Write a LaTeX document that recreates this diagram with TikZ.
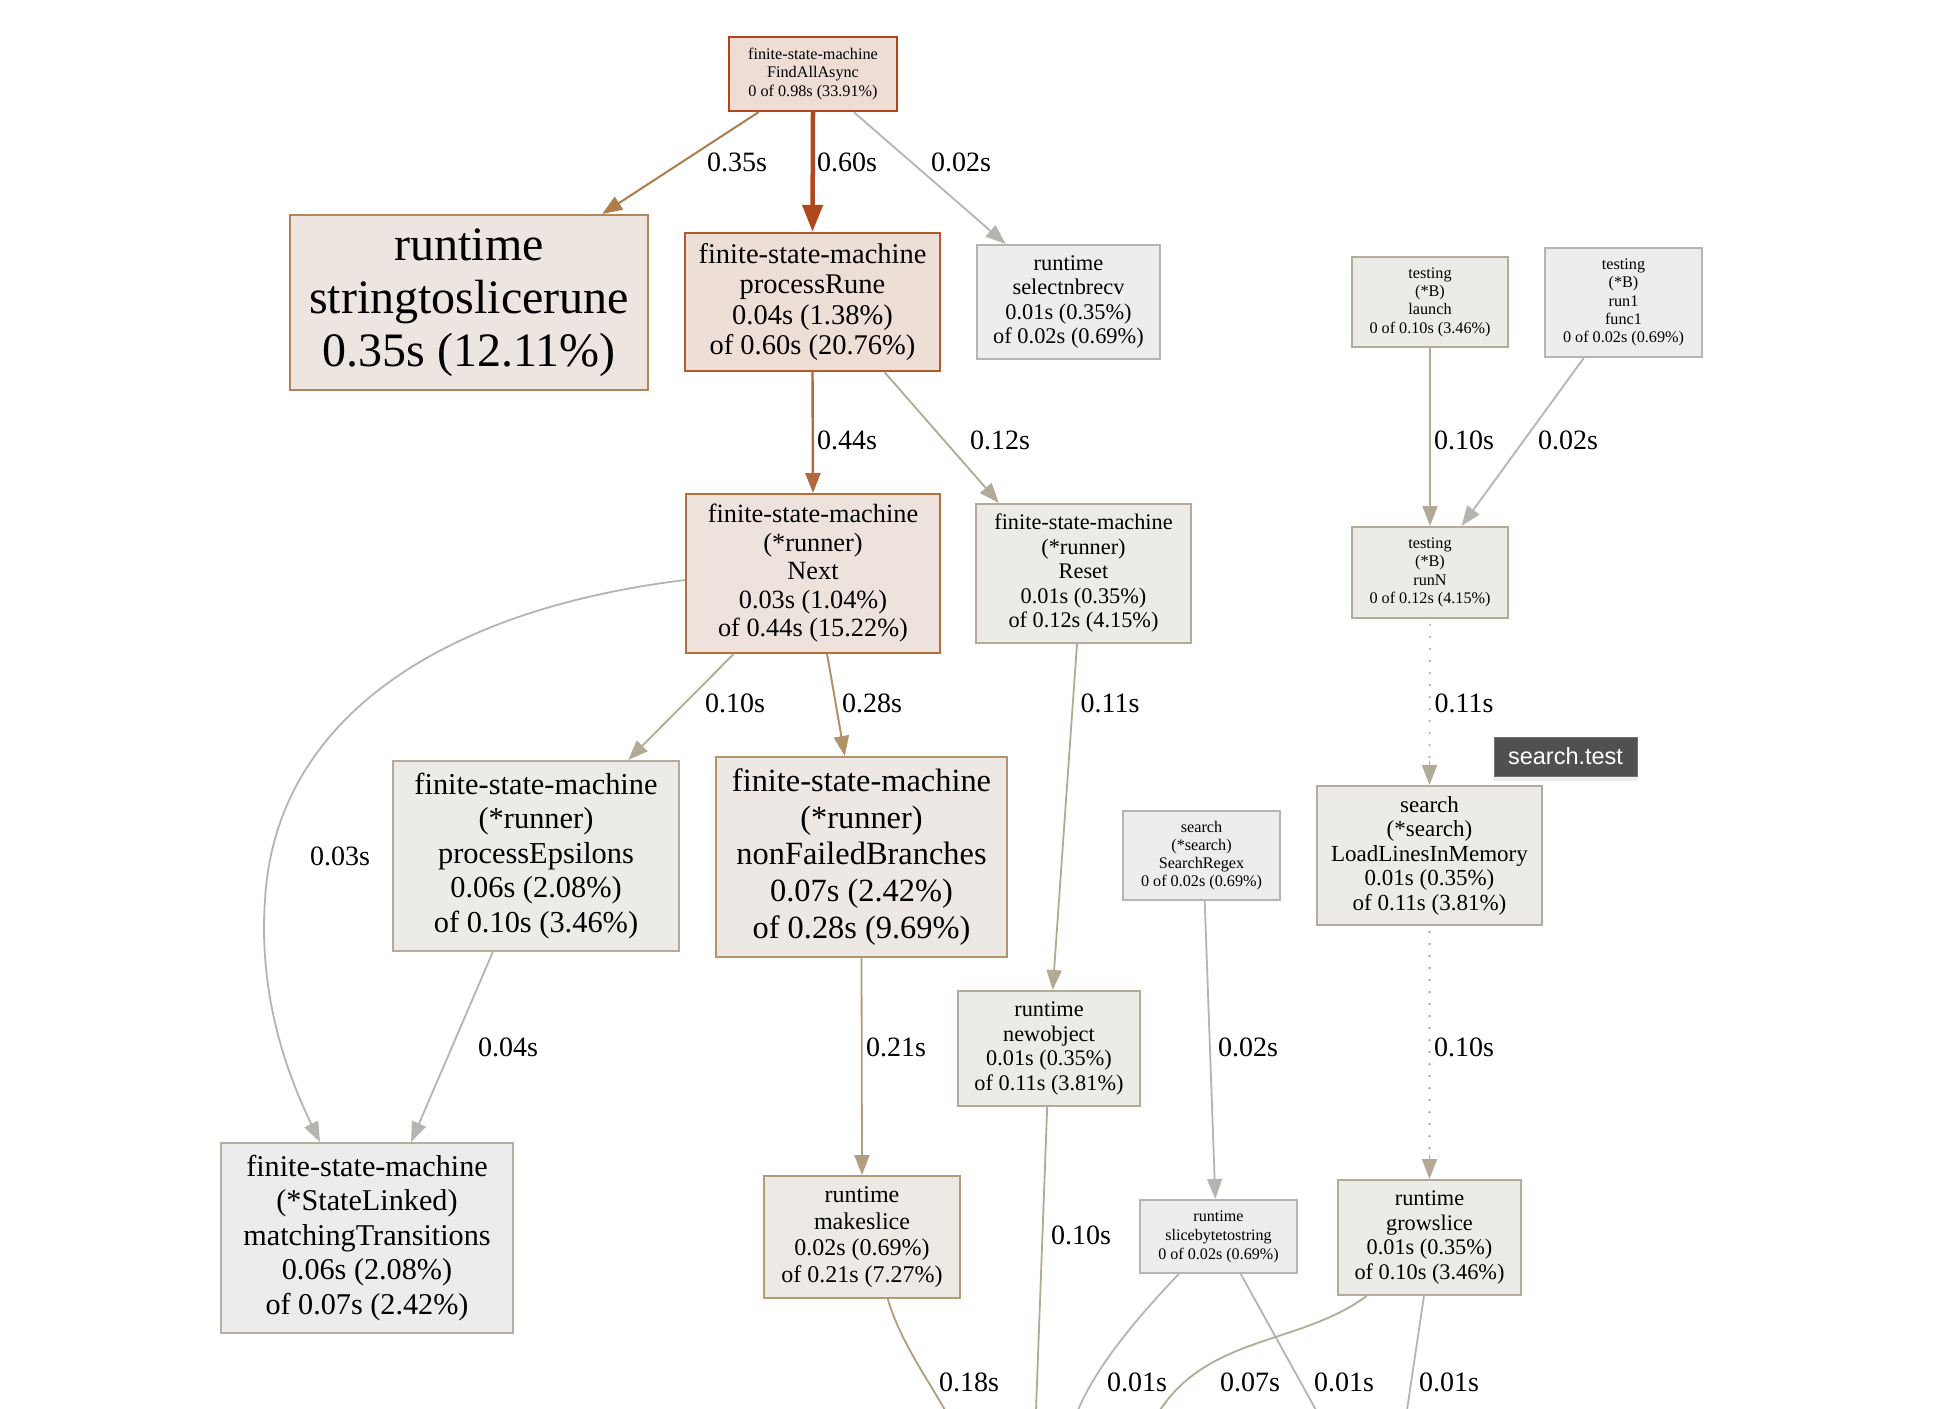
\documentclass[tikz,border=0pt]{standalone}
\usepackage{fontspec}
\setmainfont{Liberation Serif}
\newfontfamily\tipfont{Liberation Sans}
\usetikzlibrary{arrows.meta,calc,shadows}

\newcommand{\fsz}[2]{\fontsize{#1}{#2}\selectfont}

% node colours (fill / border)
\definecolor{fHot}{HTML}{EDDDD5}   \definecolor{bHot}{HTML}{B2441A}
\definecolor{fRune}{HTML}{EDDED6}  \definecolor{bRune}{HTML}{B35A2D}
\definecolor{fNext}{HTML}{EDE3DC}  \definecolor{bNext}{HTML}{B36F3C}
\definecolor{fStr}{HTML}{EDE5DF}   \definecolor{bStr}{HTML}{B2845A}
\definecolor{fNfb}{HTML}{EDE8E3}   \definecolor{bNfb}{HTML}{B3946C}
\definecolor{fMk}{HTML}{EDEAE5}    \definecolor{bMk}{HTML}{B29C78}
\definecolor{fTan}{HTML}{EDEBE8}   \definecolor{bTan}{HTML}{B4AC9B}
\definecolor{fMt}{HTML}{EDECEA}    \definecolor{bMt}{HTML}{B2AFA6}
\definecolor{fGray}{HTML}{EDEDED}  \definecolor{bGray}{HTML}{B5B5B2}
% edge colours
\definecolor{eHot}{HTML}{B0481E}
\definecolor{eStr}{HTML}{B07C4C}
\definecolor{eNext}{HTML}{B2683A}
\definecolor{eNfb}{HTML}{B2926A}
\definecolor{eMk}{HTML}{B29E7C}
\definecolor{eTan}{HTML}{B3AA96}
\definecolor{eGray}{HTML}{B5B5B0}
\definecolor{tipbg}{HTML}{505050}

\tikzset{
  fn/.style={draw, rectangle, inner sep=0pt, align=center, line width=2pt},
  lbl/.style={inner sep=0pt, font=\fsz{28}{30}},
  edge/.style={line width=1.8pt, -{Triangle[length=20pt,width=15pt]}},
  bare/.style={line width=1.8pt},
  dotline/.style={line width=2.4pt, line cap=round, dash pattern=on 0.01pt off 12pt},
}

\begin{document}
\begin{tikzpicture}[x=1pt,y=-1pt]
\fill[white] (0,0) rectangle (1950,1408);
\useasboundingbox (0,0) rectangle (1950,1408);

% ---- function nodes ----
\node[fn, fill=fHot, draw=bHot, line width=2.4pt, minimum width=168pt, minimum height=74pt, font=\fsz{16.2}{18.5}]
  (fa) at (813,74) {finite-state-machine\\FindAllAsync\\0 of 0.98s (33.91\%)};
\node[fn, fill=fStr, draw=bStr, minimum width=358pt, minimum height=175pt, font=\fsz{48}{53}]
  (str) at (469,302.5) {runtime\\stringtoslicerune\\0.35s (12.11\%)};
\node[fn, fill=fRune, draw=bRune, line width=2.4pt, minimum width=255pt, minimum height=138pt, font=\fsz{28.5}{30.5}]
  (pr) at (812.5,302) {finite-state-machine\\processRune\\0.04s (1.38\%)\\of 0.60s (20.76\%)};
\node[fn, fill=fGray, draw=bGray, minimum width=183pt, minimum height=114pt, font=\fsz{22.4}{24.5}]
  (sel) at (1068.5,302) {runtime\\selectnbrecv\\0.01s (0.35\%)\\of 0.02s (0.69\%)};
\node[fn, fill=fTan, draw=bTan, minimum width=156pt, minimum height=90pt, font=\fsz{16.2}{18.4}]
  (launch) at (1430,302) {testing\\(*B)\\launch\\0 of 0.10s (3.46\%)};
\node[fn, fill=fGray, draw=bGray, minimum width=157pt, minimum height=109pt, font=\fsz{16.2}{18.4}]
  (run1) at (1623.5,302.5) {testing\\(*B)\\run1\\func1\\0 of 0.02s (0.69\%)};
\node[fn, fill=fTan, draw=bTan, minimum width=156pt, minimum height=91pt, font=\fsz{16.2}{18.4}]
  (runN) at (1430,572.5) {testing\\(*B)\\runN\\0 of 0.12s (4.15\%)};
\node[fn, fill=fNext, draw=bNext, minimum width=254pt, minimum height=159pt, font=\fsz{26.3}{28.5}]
  (next) at (813,573.5) {finite-state-machine\\(*runner)\\Next\\0.03s (1.04\%)\\of 0.44s (15.22\%)};
\node[fn, fill=fTan, draw=bTan, minimum width=215pt, minimum height=139pt, font=\fsz{22.3}{24.5}]
  (reset) at (1083.5,573.5) {finite-state-machine\\(*runner)\\Reset\\0.01s (0.35\%)\\of 0.12s (4.15\%)};
\node[fn, fill=fTan, draw=bTan, minimum width=286pt, minimum height=190pt, font=\fsz{30.4}{34.5}]
  (pe) at (536,856) {finite-state-machine\\(*runner)\\processEpsilons\\0.06s (2.08\%)\\of 0.10s (3.46\%)};
\node[fn, fill=fNfb, draw=bNfb, minimum width=291pt, minimum height=200pt, font=\fsz{32.4}{36.6}]
  (nfb) at (861.5,857) {finite-state-machine\\(*runner)\\nonFailedBranches\\0.07s (2.42\%)\\of 0.28s (9.69\%)};
\node[fn, fill=fGray, draw=bGray, minimum width=157pt, minimum height=89pt, font=\fsz{16.2}{18}]
  (sr) at (1201.5,855.5) {search\\(*search)\\SearchRegex\\0 of 0.02s (0.69\%)};
\node[fn, fill=fTan, draw=bTan, minimum width=225pt, minimum height=139pt, font=\fsz{23}{24.5}]
  (ll) at (1429.5,855.5) {search\\(*search)\\LoadLinesInMemory\\0.01s (0.35\%)\\of 0.11s (3.81\%)};
\node[fn, fill=fTan, draw=bTan, minimum width=182pt, minimum height=115pt, font=\fsz{22.3}{24.4}]
  (no) at (1049,1048.5) {runtime\\newobject\\0.01s (0.35\%)\\of 0.11s (3.81\%)};
\node[fn, fill=fMt, draw=bMt, minimum width=292pt, minimum height=190pt, font=\fsz{30.2}{34.5}]
  (mt) at (367,1238) {finite-state-machine\\(*StateLinked)\\matchingTransitions\\0.06s (2.08\%)\\of 0.07s (2.42\%)};
\node[fn, fill=fMk, draw=bMk, minimum width=196pt, minimum height=122pt, font=\fsz{24}{26.5}]
  (ms) at (862,1237) {runtime\\makeslice\\0.02s (0.69\%)\\of 0.21s (7.27\%)};
\node[fn, fill=fGray, draw=bGray, minimum width=157pt, minimum height=73pt, font=\fsz{16.1}{19}]
  (sb) at (1218.5,1236.5) {runtime\\slicebytetostring\\0 of 0.02s (0.69\%)};
\node[fn, fill=fTan, draw=bTan, minimum width=183pt, minimum height=115pt, font=\fsz{22.3}{24.4}]
  (gs) at (1429.5,1237.5) {runtime\\growslice\\0.01s (0.35\%)\\of 0.10s (3.46\%)};

% ---- free ends of the calls leaving the visible area ----
\coordinate (endMs)  at (945,1410);
\coordinate (endNo)  at (1036,1410);
\coordinate (endSbL) at (1078,1410);
\coordinate (endSbR) at (1316,1410);
\coordinate (endGsL) at (1160,1410);
\coordinate (endGsD) at (1407,1410);

% ---- call edges ----
\draw[edge, eStr, line width=2pt]
  ($(fa.south west)!0.18!(fa.south east)$) -- ($(str.north west)!0.87!(str.north east)$);
\draw[line width=4.5pt, eHot, -{Triangle[length=27pt,width=20pt]}] (fa.south) -- (pr.north);
\draw[edge, eGray]
  ($(fa.south west)!0.74!(fa.south east)$) -- ($(sel.north west)!0.16!(sel.north east)$);
\draw[edge, eNext, line width=2.4pt] (pr.south) -- (next.north);
\draw[edge, eTan]
  ($(pr.south west)!0.78!(pr.south east)$) -- ($(reset.north west)!0.11!(reset.north east)$);
\draw[edge, eTan] (launch.south) -- (runN.north);
\draw[edge, eGray]
  ($(run1.south west)!0.25!(run1.south east)$) -- ($(runN.north west)!0.7!(runN.north east)$);
\draw[dotline, eTan] ([yshift=-6pt]runN.south) -- ([yshift=24pt]ll.north);
\draw[edge, eTan] ([yshift=24pt]ll.north) -- (ll.north);
\draw[edge, eTan]
  ($(next.south west)!0.19!(next.south east)$) -- ($(pe.north west)!0.82!(pe.north east)$);
\draw[edge, eNfb, line width=2pt]
  ($(next.south west)!0.555!(next.south east)$) -- ($(nfb.north west)!0.443!(nfb.north east)$);
\draw[edge, eGray]
  ([yshift=-6.5pt]next.west) .. controls (440,610) and (275,720) .. (265,900)
  .. controls (258,1000) and (290,1080) .. ($(mt.north west)!0.34!(mt.north east)$);
\draw[edge, eGray]
  ($(pe.south west)!0.35!(pe.south east)$) -- ($(mt.north west)!0.65!(mt.north east)$);
\draw[edge, eMk] (nfb.south) -- (ms.north);
\draw[edge, eTan]
  ($(reset.south west)!0.47!(reset.south east)$) -- ($(no.north west)!0.52!(no.north east)$);
\draw[edge, eGray]
  ($(sr.south west)!0.52!(sr.south east)$) -- ($(sb.north west)!0.48!(sb.north east)$);
\draw[dotline, eTan] ([yshift=-6pt]ll.south) -- ([yshift=24pt]gs.north);
\draw[edge, eTan] ([yshift=24pt]gs.north) -- (gs.north);

\draw[bare, eMk] ($(ms.south west)!0.63!(ms.south east)$) .. controls (900,1340) and (925,1375) .. (endMs);
\draw[bare, eTan] ($(no.south west)!0.49!(no.south east)$) -- (endNo);
\draw[bare, eGray] ($(sb.south west)!0.25!(sb.south east)$) .. controls (1130,1325) and (1095,1370) .. (endSbL);
\draw[bare, eGray] ($(sb.south west)!0.64!(sb.south east)$) -- (endSbR);
\draw[bare, eTan] ($(gs.south west)!0.16!(gs.south east)$) .. controls (1300,1345) and (1210,1335) .. (endGsL);
\draw[bare, eGray] ($(gs.south west)!0.47!(gs.south east)$) -- (endGsD);

% ---- edge labels ----
\node[lbl] (t1)  at (737,162)   {0.35s};
\node[lbl] (t2)  at (847,162)   {0.60s};
\node[lbl] (t3)  at (961,162)   {0.02s};
\node[lbl] (t4)  at (847,440)   {0.44s};
\node[lbl] (t5)  at (1000,440)  {0.12s};
\node[lbl] (t6)  at (1464,440)  {0.10s};
\node[lbl] (t7)  at (1568,440)  {0.02s};
\node[lbl] (t8)  at (735,703)   {0.10s};
\node[lbl] (t9)  at (872,703)   {0.28s};
\node[lbl] (t10) at (1110,703)  {0.11s};
\node[lbl] (t11) at (1464,703)  {0.11s};
\node[lbl] (t12) at (340,856)   {0.03s};
\node[lbl] (t13) at (508,1047)  {0.04s};
\node[lbl] (t14) at (896,1047)  {0.21s};
\node[lbl] (t15) at (1248,1047) {0.02s};
\node[lbl] (t16) at (1464,1047) {0.10s};
\node[lbl] (t17) at (1081,1235) {0.10s};
\node[lbl] (t18) at (969,1382)  {0.18s};
\node[lbl] (t19) at (1137,1382) {0.01s};
\node[lbl] (t20) at (1250,1382) {0.07s};
\node[lbl] (t21) at (1344,1382) {0.01s};
\node[lbl] (t22) at (1449,1382) {0.01s};

% ---- hover tooltip ----
\node[fill=tipbg, draw=black!55, line width=1pt, minimum width=143pt, minimum height=39pt, inner sep=0pt,
      text=white, font=\tipfont\fsz{23.5}{26},
      drop shadow={opacity=0.15, shadow xshift=0pt, shadow yshift=-5pt}]
  (tip) at (1565.5,756.5) {search.test};
\end{tikzpicture}
\end{document}
